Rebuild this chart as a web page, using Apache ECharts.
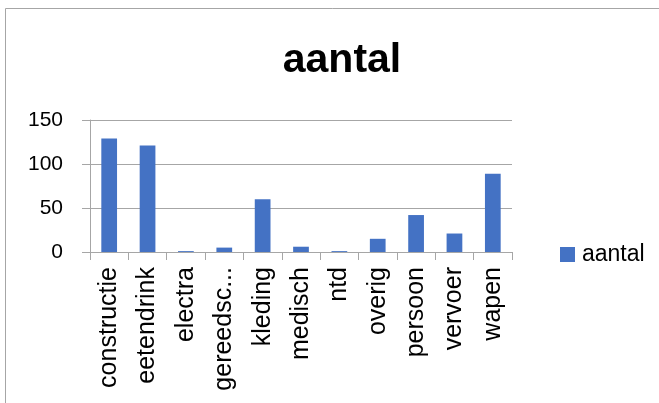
<!DOCTYPE html>
<html>
<head>
<meta charset="utf-8">
<script src="https://cdn.jsdelivr.net/npm/echarts@6/dist/echarts.min.js"></script>
<style>
html,body{margin:0;padding:0;background:#fff;}
#chart{width:659px;height:403px;}
</style>
</head>
<body>
<div id="chart"></div>
<script>
const categories = ["constructie","eetendrink","electra","gereedschap","kleding","medisch","ntd","overig","persoon","vervoer","wapen"];
const aantal = [129, 121, 1, 5, 60, 6, 1, 15, 42, 21, 89];
const yTicks = [0, 50, 100, 150];
const seriesName = "aantal";
const titleText = "aantal";

const chart = echarts.init(document.getElementById('chart'), null, {renderer:'canvas'});
const font = "'Liberation Sans', Arial, sans-serif";
chart.setOption({
  animation: false,
  backgroundColor: '#ffffff',
  graphic: [{
    type: 'rect',
    shape: {x: 5.5, y: 8.5, width: 800, height: 600},
    style: {fill: 'none', stroke: '#a6a6a6', lineWidth: 1},
    silent: true
  }],
  title: {
    text: titleText,
    left: 337, textAlign: 'center',
    top: 35,
    textStyle: {fontFamily: font, fontWeight: 'bold', fontSize: 41, color: '#000'}
  },
  legend: {
    data: [seriesName],
    left: 555, top: 238,
    itemWidth: 15, itemHeight: 15, itemGap: 6,
    icon: 'rect',
    itemStyle: {borderWidth: 0},
    textStyle: {fontFamily: font, fontSize: 23, color: '#000', padding: [0,0,0,2]}
  },
  grid: {left: 90, right: 147, top: 120, bottom: 151, containLabel: false},
  xAxis: {
    type: 'category',
    data: categories,
    axisLine: {show: true, lineStyle: {color: '#a6a6a6', width: 1}},
    axisTick: {show: true, length: 8, alignWithLabel: false, lineStyle: {color: '#a6a6a6'}},
    axisLabel: {
      rotate: 90, interval: 0, margin: 15,
      fontFamily: font, fontSize: 25, color: '#000',
      width: 126, overflow: 'truncate', ellipsis: '...'
    }
  },
  yAxis: {
    type: 'value',
    min: yTicks[0], max: yTicks[yTicks.length-1], interval: 50,
    axisLine: {show: true, lineStyle: {color: '#a6a6a6', width: 1}},
    axisTick: {show: true, length: 8, lineStyle: {color: '#a6a6a6'}},
    splitLine: {show: true, lineStyle: {color: '#a6a6a6', width: 1}},
    axisLabel: {margin: 27, fontFamily: font, fontSize: 21, color: '#000'}
  },
  series: [{
    name: seriesName,
    type: 'bar',
    data: aantal,
    barWidth: '41%',
    itemStyle: {color: '#4472C4'}
  }]
});
</script>
</body>
</html>
